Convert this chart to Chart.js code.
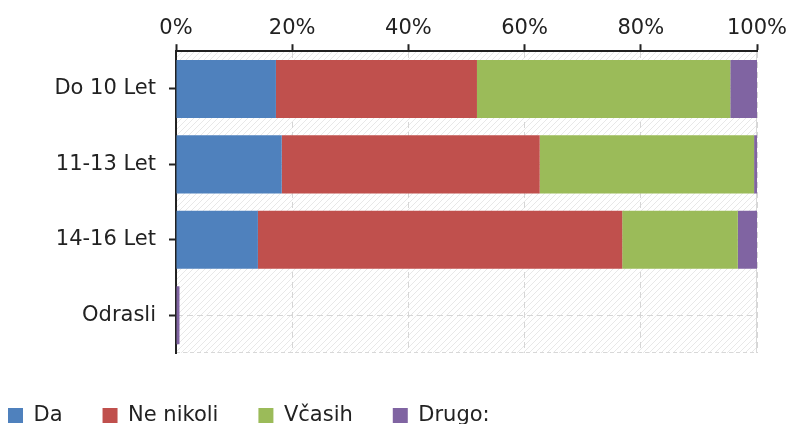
<!DOCTYPE html>
<html lang="sl">
<head>
  <meta charset="UTF-8">
  <title>Odgovori po starosti</title>
  <script src="https://cdn.jsdelivr.net/npm/chart.js"></script>
  <style>
    html, body { margin: 0; padding: 0; background: #fff; overflow: hidden; }
  </style>
</head>
<body>
  <canvas id="ageChart" width="787" height="424"></canvas>
  <script>
    // podatki (v %)
    const categories = ['Do 10 Let', '11-13 Let', '14-16 Let', 'Odrasli'];
    const da       = [17.2, 18.2, 14.1, 0];
    const neNikoli = [34.6, 44.4, 62.7, 0];
    const vcasih   = [43.6, 36.9, 19.9, 0];
    const drugo    = [4.6, 0.5, 3.3, 0.6];
    const xTicks   = ['0%', '20%', '40%', '60%', '80%', '100%'];

    const FONT = 'DejaVu Sans';

    // hatched background + dashed frame of the plot area
    const plotBg = {
      id: 'plotBg',
      afterLayout(chart) {
        // legend sits a bit lower in the original
        chart.legend.top += 12;
        chart.legend.bottom += 12;
      },
      beforeDraw(chart) {
        const { ctx, chartArea: a } = chart;
        const p = document.createElement('canvas');
        p.width = 6; p.height = 6;
        const pc = p.getContext('2d');
        pc.fillStyle = '#fff';
        pc.fillRect(0, 0, 6, 6);
        pc.strokeStyle = '#e8e8e8';
        pc.lineWidth = 1;
        pc.beginPath();
        pc.moveTo(0, 6); pc.lineTo(6, 0);
        pc.moveTo(-1, 1); pc.lineTo(1, -1);
        pc.moveTo(5, 7); pc.lineTo(7, 5);
        pc.stroke();
        ctx.save();
        ctx.fillStyle = ctx.createPattern(p, 'repeat');
        ctx.fillRect(a.left, a.top, a.right - a.left, a.bottom - a.top);
        ctx.strokeStyle = '#d8d8d8';
        ctx.setLineDash([4, 3]);
        ctx.beginPath();
        ctx.moveTo(a.left, a.bottom - 0.5); ctx.lineTo(a.right, a.bottom - 0.5);
        ctx.stroke();
        ctx.setLineDash([]);
        ctx.beginPath();
        ctx.moveTo(a.right - 0.5, a.top); ctx.lineTo(a.right - 0.5, a.bottom);
        ctx.stroke();
        ctx.restore();
      }
    };

    const mk = (label, data, color) => ({
      label, data,
      backgroundColor: color,
      borderWidth: 0,
      barPercentage: 0.77,
      categoryPercentage: 1
    });

    new Chart(document.getElementById('ageChart'), {
      type: 'bar',
      data: {
        labels: categories,
        datasets: [
          mk('Da', da, '#4F81BD'),
          mk('Ne nikoli', neNikoli, '#C0504D'),
          mk('Včasih', vcasih, '#9BBB59'),
          mk('Drugo:', drugo, '#8064A2')
        ]
      },
      plugins: [plotBg],
      options: {
        indexAxis: 'y',
        responsive: false,
        animation: false,
        devicePixelRatio: 1,
        layout: { padding: { left: -32, right: 30, top: 13, bottom: 0 } },
        scales: {
          x: {
            position: 'top',
            stacked: true,
            min: 0, max: 100,
            afterFit: s => { s.paddingLeft = 0; s.paddingRight = 0; },
            ticks: {
              stepSize: 20,
              maxRotation: 0,
              color: '#222',
              padding: 3,
              font: { family: FONT, size: 21 },
              callback: (v, i) => xTicks[i]
            },
            grid: { color: '#d6d6d6', tickColor: '#222', tickLength: 7, tickWidth: 2 },
            border: { display: true, color: '#222', width: 2, dash: [6, 4] }
          },
          y: {
            stacked: true,
            afterFit: s => { s.width = 208; },
            ticks: {
              color: '#222',
              padding: 13,
              font: { family: FONT, size: 21 }
            },
            grid: { offset: false, color: '#d6d6d6', tickColor: '#222', tickLength: 7, tickWidth: 2 },
            border: { display: true, color: '#222', width: 2, dash: [6, 4] }
          }
        },
        plugins: {
          tooltip: { enabled: false },
          legend: {
            position: 'bottom',
            align: 'start',
            labels: {
              color: '#222',
              boxWidth: 15,
              boxHeight: 15,
              padding: 40,
              font: { family: FONT, size: 21 }
            }
          }
        }
      }
    });
  </script>
</body>
</html>
